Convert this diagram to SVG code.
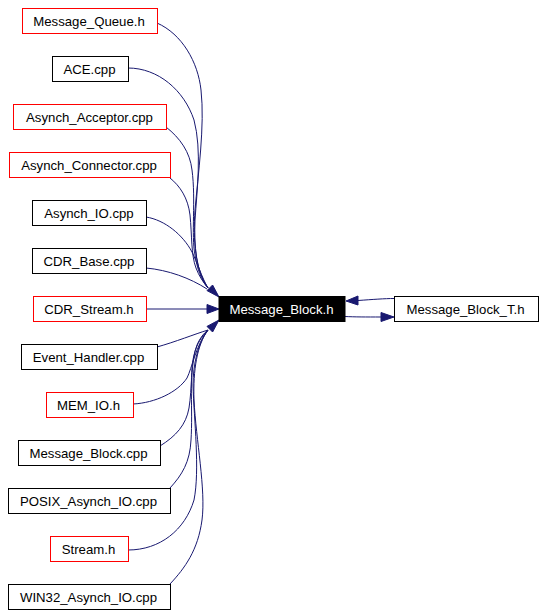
<svg xmlns="http://www.w3.org/2000/svg" width="546" height="615" viewBox="0 0 546 615">
<style>
.bg{fill:#ffffff}
.n rect{fill:#ffffff;stroke:#000000;stroke-width:1}
.n.red rect{stroke:#ff0000}
.n.cur rect{fill:#000000;stroke:#000000}
.n text{font-family:"Liberation Sans",Arial,Helvetica,sans-serif;font-size:13.2px;fill:#000000;text-anchor:middle}
.n.cur text{fill:#ffffff}
.e path{fill:none;stroke:#191970;stroke-width:1}
.e polygon{fill:#191970;stroke:#191970;stroke-width:1}
</style>
<rect class="bg" x="0" y="0" width="546" height="615"/>
<g id="edges" class="e">
<path d="M157,23 C182,34 198,62 201,90 C205,125 198,175 195,210 C193,240 195,270 208,288"/>
<path d="M128,68 C158,68 184,90 194,120 C202,150 197,190 195,220 C194,245 196,272 208,288"/>
<path d="M166,127 C180,138 190,152 192,170 C196,200 191,235 195,255 C197,268 201,280 208,288"/>
<path d="M170,178 C180,186 188,198 190,215 C192,235 191,255 196,268 C199,276 203,282 208,288"/>
<path d="M146,217 C165,220 183,235 192,252 C197,262 202,278 208,288"/>
<path d="M146,268 C168,270 190,278 207,289"/>
<polygon points="219,297 207,290.6 212.6,285"/>
<path d="M146,309 L207,309"/>
<polygon points="219,309 207,304.5 207,313.5"/>
<path d="M157,347 C175,342 195,334 208,330"/>
<path d="M133,404 C155,403 178,392 187,378 C192,368 196,345 208,330"/>
<path d="M160,446 C176,436 186,425 189,408 C192,390 191,360 197,345 C200,338 204,333 208,330"/>
<path d="M170,488 C182,475 190,462 191,440 C193,410 189,375 194,355 C197,343 202,336 208,330"/>
<path d="M128,550 C160,550 185,530 194,500 C200,470 194,420 193,385 C193,365 198,342 208,330"/>
<path d="M170,584 C185,568 198,550 202,520 C206,490 196,440 194,400 C193,370 197,345 208,330"/>
<polygon points="219,320 212.6,332 207,326.4"/>
<path d="M345,316.5 C355,317 366,317 381,317"/>
<polygon points="394,317 381,312.5 381,321.5"/>
<path d="M394,298.5 C385,298.5 372,299.5 358,300.5"/>
<polygon points="346,301 358,296 358,305"/>
</g>
<g id="node-message-queue-h" class="n red"><rect x="22.5" y="8.5" width="135" height="25"/><text x="89" y="26">Message_Queue.h</text></g>
<g id="node-ace-cpp" class="n"><rect x="52.5" y="56.5" width="76" height="25"/><text x="89.5" y="74">ACE.cpp</text></g>
<g id="node-asynch-acceptor-cpp" class="n red"><rect x="13.5" y="104.5" width="153" height="25"/><text x="89.5" y="122">Asynch_Acceptor.cpp</text></g>
<g id="node-asynch-connector-cpp" class="n red"><rect x="9.5" y="152.5" width="161" height="25"/><text x="89" y="170">Asynch_Connector.cpp</text></g>
<g id="node-asynch-io-cpp" class="n"><rect x="32.5" y="200.5" width="114" height="25"/><text x="89" y="218">Asynch_IO.cpp</text></g>
<g id="node-cdr-base-cpp" class="n"><rect x="32.5" y="248.5" width="114" height="25"/><text x="89" y="266">CDR_Base.cpp</text></g>
<g id="node-cdr-stream-h" class="n red"><rect x="33.5" y="296.5" width="113" height="25"/><text x="89" y="314">CDR_Stream.h</text></g>
<g id="node-event-handler-cpp" class="n"><rect x="21.5" y="344.5" width="136" height="25"/><text x="88.5" y="362">Event_Handler.cpp</text></g>
<g id="node-mem-io-h" class="n red"><rect x="46.5" y="392.5" width="87" height="25"/><text x="88.5" y="410">MEM_IO.h</text></g>
<g id="node-message-block-cpp" class="n"><rect x="18.5" y="440.5" width="142" height="25"/><text x="88.5" y="458">Message_Block.cpp</text></g>
<g id="node-posix-asynch-io-cpp" class="n"><rect x="8.5" y="488.5" width="162" height="25"/><text x="88.5" y="506">POSIX_Asynch_IO.cpp</text></g>
<g id="node-stream-h" class="n red"><rect x="50.5" y="536.5" width="78" height="25"/><text x="88.5" y="554">Stream.h</text></g>
<g id="node-win32-asynch-io-cpp" class="n"><rect x="8.5" y="584.5" width="162" height="25"/><text x="88.5" y="602">WIN32_Asynch_IO.cpp</text></g>
<g id="node-message-block-h" class="n cur"><rect x="219" y="296.5" width="126" height="25"/><text x="281.5" y="314">Message_Block.h</text></g>
<g id="node-message-block-t-h" class="n"><rect x="394.5" y="296.5" width="144" height="25"/><text x="465.5" y="314">Message_Block_T.h</text></g>
</svg>
